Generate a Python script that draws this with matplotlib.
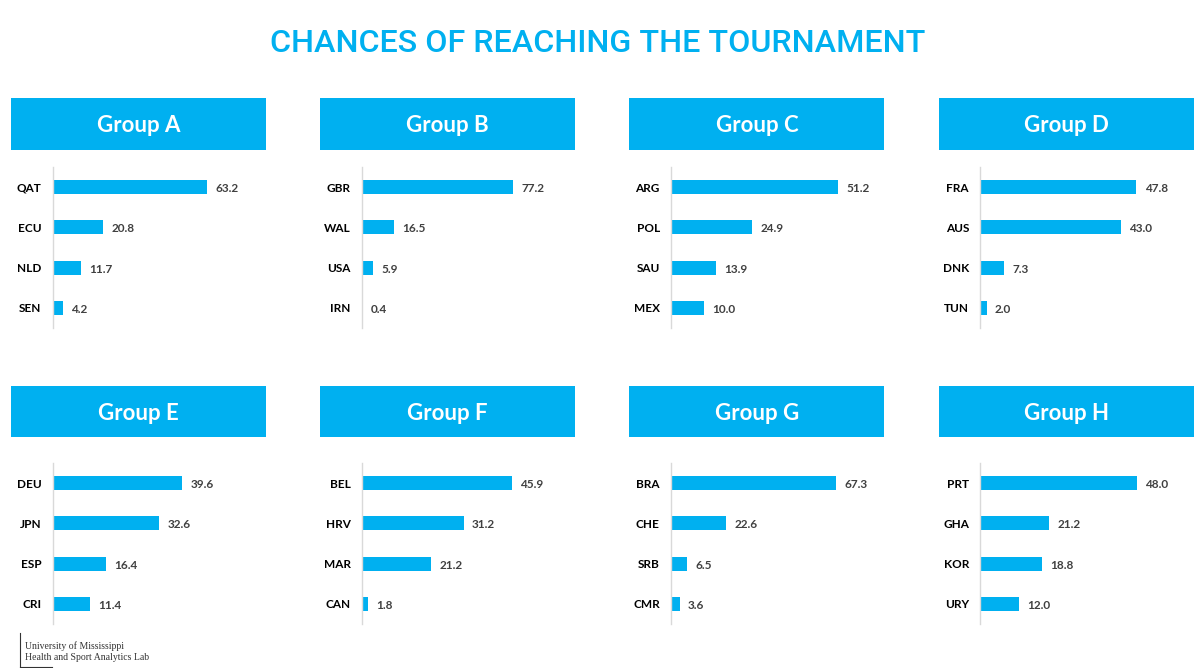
import numpy as np
import matplotlib.pyplot as plt

# données
group_names = ["Group A", "Group B", "Group C", "Group D",
               "Group E", "Group F", "Group G", "Group H"]

teams_a = ["QAT", "ECU", "NLD", "SEN"]
teams_b = ["GBR", "WAL", "USA", "IRN"]
teams_c = ["ARG", "POL", "SAU", "MEX"]
teams_d = ["FRA", "AUS", "DNK", "TUN"]
teams_e = ["DEU", "JPN", "ESP", "CRI"]
teams_f = ["BEL", "HRV", "MAR", "CAN"]
teams_g = ["BRA", "CHE", "SRB", "CMR"]
teams_h = ["PRT", "GHA", "KOR", "URY"]

chances_a = [63.2, 20.8, 11.7, 4.2]
chances_b = [77.2, 16.5, 5.9, 0.4]
chances_c = [51.2, 24.9, 13.9, 10.0]
chances_d = [47.8, 43.0, 7.3, 2.0]
chances_e = [39.6, 32.6, 16.4, 11.4]
chances_f = [45.9, 31.2, 21.2, 1.8]
chances_g = [67.3, 22.6, 6.5, 3.6]
chances_h = [48.0, 21.2, 18.8, 12.0]

all_teams = [teams_a, teams_b, teams_c, teams_d, teams_e, teams_f, teams_g, teams_h]
all_chances = [chances_a, chances_b, chances_c, chances_d,
               chances_e, chances_f, chances_g, chances_h]

BLUE = "#00B0F0"
W, H = 1200, 668

fig = plt.figure(figsize=(12, 6.68), dpi=100)

fig.text(598 / W, 1 - 43 / H, "CHANCES OF REACHING THE TOURNAMENT",
         ha="center", va="center", color=BLUE, fontsize=23.2,
         family="Roboto", weight="medium")

for k, (name, teams, vals) in enumerate(zip(group_names, all_teams, all_chances)):
    col, row = k % 4, k // 4
    x0 = 11 + 309.2 * col

    # bandeau du groupe
    hy0, hy1 = (98, 150) if row == 0 else (386, 437)
    hax = fig.add_axes([x0 / W, 1 - hy1 / H, 255 / W, (hy1 - hy0) / H])
    hax.set_facecolor(BLUE)
    hax.set_xticks([])
    hax.set_yticks([])
    for s in hax.spines.values():
        s.set_visible(False)
    hax.text(0.5, 0.47, name, ha="center", va="center", color="white",
             fontsize=16, family="Lato", weight="bold",
             transform=hax.transAxes)

    # barres
    ay0, ay1 = (167, 328) if row == 0 else (463, 624)
    ax = fig.add_axes([(x0 + 41.5) / W, 1 - ay1 / H, 245 / W, (ay1 - ay0) / H])
    y = np.arange(len(teams))
    ax.barh(y, vals, height=0.35, color=BLUE)
    ax.set_ylim(3.5, -0.5)
    ax.set_xlim(0, np.ceil(max(vals) * 1.4 / 25) * 25)
    ax.set_yticks(y)
    ax.set_yticklabels(teams, fontsize=8.5, family="Lato",
                       weight="bold", color="black")
    ax.tick_params(axis="y", length=0, pad=8)
    ax.set_xticks([])
    for side in ["top", "right", "bottom"]:
        ax.spines[side].set_visible(False)
    ax.spines["left"].set_color("#d9d9d9")
    ax.spines["left"].set_linewidth(1)
    ax.patch.set_alpha(0)
    for yi, v in zip(y, vals):
        ax.annotate(f"{v:.1f}", xy=(v, yi), xytext=(6, -1),
                    textcoords="offset points", ha="left", va="center",
                    fontsize=8.5, family="Lato", weight="bold",
                    color="#404040")

# signature
fig.text(25 / W, 1 - 652 / H,
         "University of Mississippi\nHealth and Sport Analytics Lab",
         ha="left", va="center", fontsize=7, family="Liberation Serif",
         color="#333333", linespacing=1.3)
fig.add_artist(plt.Line2D([20 / W, 20 / W], [1 - 633 / H, 0.0],
                          color="#333333", lw=0.8))
fig.add_artist(plt.Line2D([20 / W, 52 / W], [1 - 667 / H, 1 - 667 / H],
                          color="#333333", lw=0.8))

fig.savefig("out.png", dpi=100)
